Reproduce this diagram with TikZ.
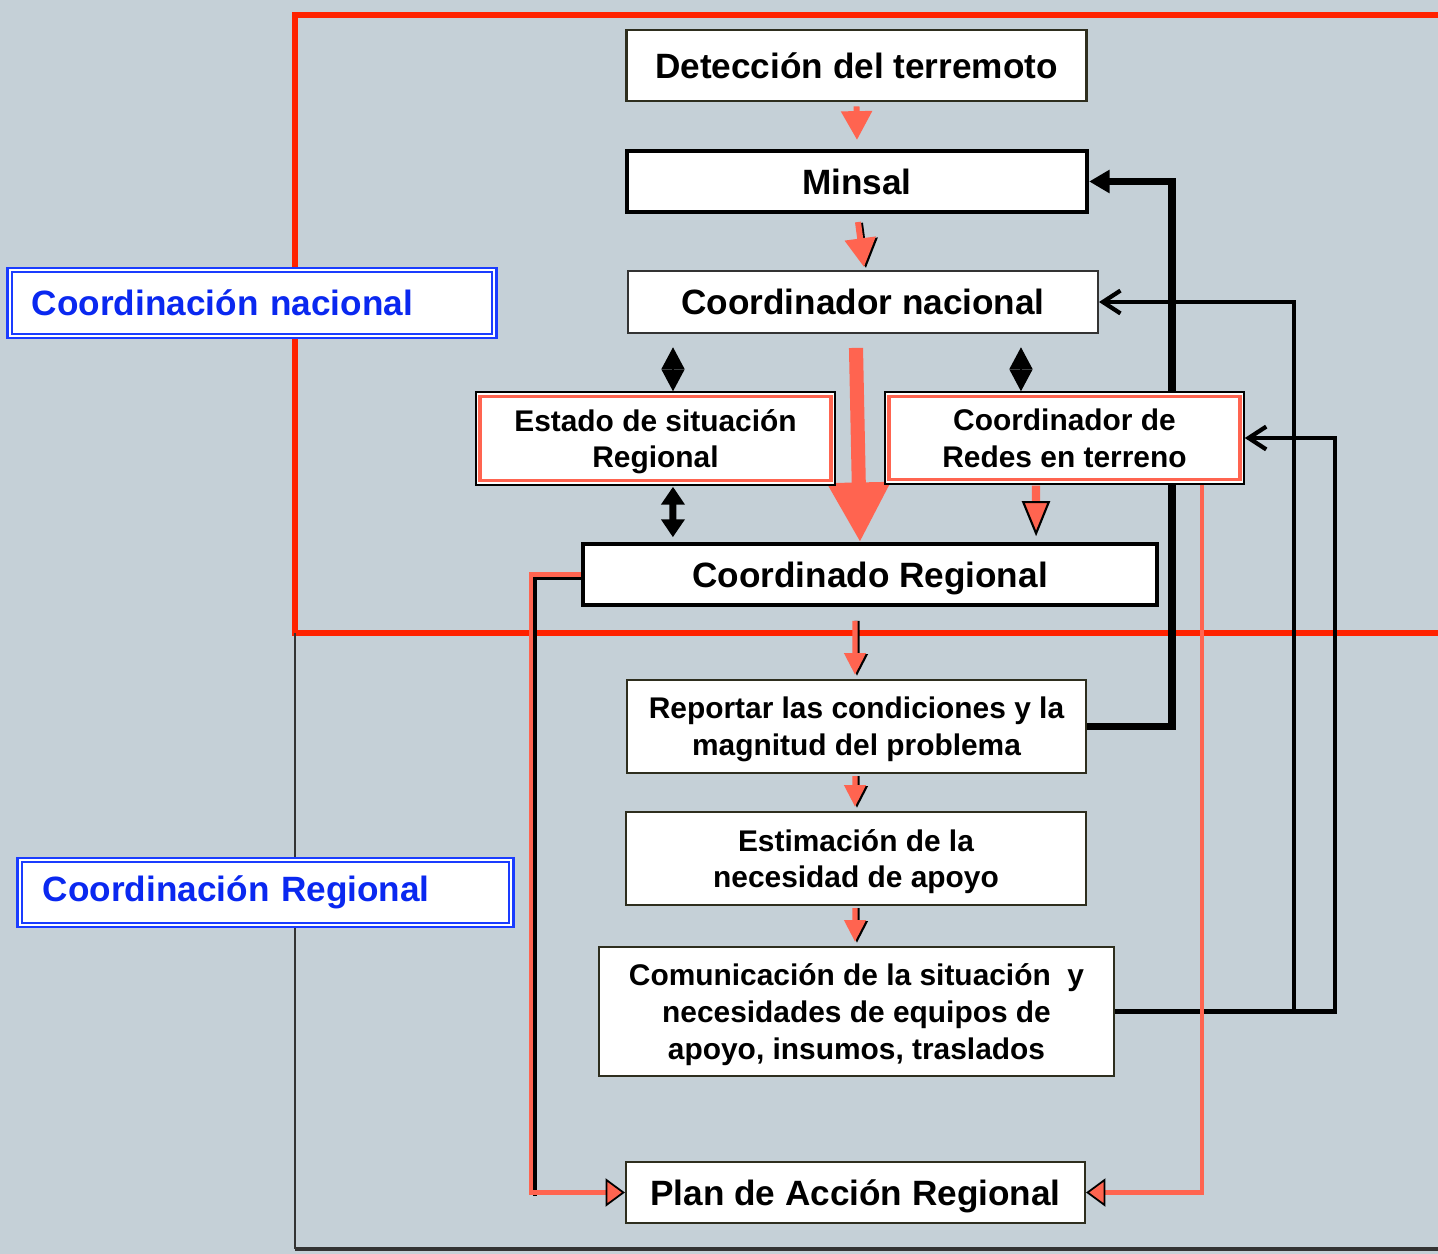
\documentclass[tikz,border=0pt]{standalone}
\usepackage{fontspec}
\setmainfont{Liberation Sans}
\usetikzlibrary{arrows.meta,calc}
\definecolor{bg}{HTML}{C5D0D7}
\definecolor{salmon}{HTML}{FF6450}
\definecolor{framered}{HTML}{FF2200}
\definecolor{lblue}{HTML}{1A3CFF}
\definecolor{tblue}{HTML}{0A28F0}
\definecolor{olive}{HTML}{2E2E1E}
\pgfdeclarelayer{back}
\pgfdeclarelayer{mid}
\pgfsetlayers{back,mid,main}
\begin{document}
\begin{tikzpicture}[x=0.01cm,y=-0.01cm,
  box/.style={draw=olive, line width=0.55pt, fill=white, inner sep=0pt, align=center, text depth=0pt,
    font=\bfseries\fontsize{10}{12}\selectfont},
  sbox/.style={box, font=\bfseries\fontsize{8.5}{10.5}\selectfont},
  rbox/.style={sbox, draw=black, line width=0.4pt,
    path picture={\draw[draw=salmon, line width=1.1pt]
      ([shift={(0.045cm,-0.045cm)}]path picture bounding box.north west) rectangle
      ([shift={(-0.045cm,0.045cm)}]path picture bounding box.south east);}},
  lbl/.style={draw=lblue, double=white, line width=0.75pt, double distance=0.45pt, fill=white,
    text=tblue, align=left, inner ysep=0pt, font=\bfseries\fontsize{10}{12}\selectfont},
  sar/.style={draw=salmon, line width=1.7pt, -{Triangle[width=8.5pt,length=8.2pt]}},
  sar2/.style={draw=salmon, line width=1.5pt, -{Triangle[width=5.8pt,length=6.2pt]}},
  shad/.style={draw=black},
  bigar/.style={draw=salmon, line width=4pt, -{Triangle[width=17pt,length=17pt]}},
  dia/.style={draw=black, line width=0.4pt, {Triangle[width=6.5pt,length=6.2pt]}-{Triangle[width=6.5pt,length=6.2pt]}},
  dbl/.style={draw=black, line width=2pt, {Triangle[width=6.5pt,length=5.1pt]}-{Triangle[width=6.5pt,length=5.1pt]}},
  obtip/.style={-{Triangle[width=8pt,length=5.5pt,fill=salmon,color=black,line width=0.5pt]}},
  sline/.style={draw=salmon, line width=1.3pt, line join=miter},
  thickblk/.style={draw=black, line width=2.2pt, line join=miter, -{Triangle[width=6.3pt,length=5.8pt]}},
  medblk/.style={draw=black, line width=1.35pt, line join=miter, -{Straight Barb[width=6.5pt,length=5pt,line width=1.2pt]}}
]
\begin{pgfonlayer}{back}
\useasboundingbox (0,0) rectangle (1438,1254);
\fill[bg] (0,0) rectangle (1438,1254);
\draw[framered, line width=1.45pt, line join=miter] (1445,15) -- (295,15) -- (295,633) -- (1445,633);
\draw[black!80, line width=0.6pt] (295,633) -- (295,1249);
\draw[black!80, line width=0.9pt] (295,1249) -- (1445,1249);
\end{pgfonlayer}

% nodes
\node[box, line width=0.8pt, minimum width=4.59cm, minimum height=0.71cm] (det) at (856.5,65.5) {Detección del terremoto};
\node[box, draw=black, line width=1.15pt, minimum width=4.60cm, minimum height=0.61cm] (minsal) at (857,181.5) {Minsal};
\node[box, draw=black!80, line width=0.5pt, minimum width=4.70cm, minimum height=0.62cm] (cn) at (863,302) {Coordinador nacional};
\node[rbox, minimum width=3.59cm, minimum height=0.93cm] (estado) at (655.5,438.5) {Estado de situación\\Regional};
\node[rbox, minimum width=3.59cm, minimum height=0.92cm] (redes) at (1064.5,438) {Coordinador de\\Redes en terreno};
\node[box, draw=black, line width=1pt, minimum width=5.74cm, minimum height=0.61cm] (cr) at (870,574.5) {Coordinado Regional};
\node[sbox, minimum width=4.59cm, minimum height=0.93cm] (rep) at (856.5,726.5) {Reportar las condiciones y la\\magnitud del problema};
\node[sbox, minimum width=4.60cm, minimum height=0.93cm] (est) at (856,858.5) {Estimación de la\\necesidad de apoyo};
\node[sbox, minimum width=5.15cm, minimum height=1.29cm] (com) at (856.5,1011.5) {Comunicación de la situación\ \ y\\necesidades de equipos de\\apoyo, insumos, traslados};
\node[box, minimum width=4.59cm, minimum height=0.61cm] (plan) at (855.5,1192.5) {Plan de Acción Regional};

% labels
\node[lbl, inner xsep=0.22cm, text width=4.40cm, minimum height=0.66cm] (lnac) at (252,303) {Coordinación nacional};
\node[lbl, inner xsep=0.23cm, text width=4.45cm, minimum height=0.65cm] (lreg) at (265.5,892.5) {Coordinación Regional};

\begin{pgfonlayer}{mid}
% downward salmon arrows
\draw[sar] ([yshift=-0.04cm]det.south) -- ([yshift=0.09cm]minsal.north);
\draw[sar, shad] ([shift={(0.03cm,-0.09cm)}]minsal.south) -- ([shift={(0.03cm,0.02cm)}]cn.north);
\draw[sar] ([shift={(0.01cm,-0.08cm)}]minsal.south) -- ([shift={(0.01cm,0.03cm)}]cn.north);
\draw[bigar] ([shift={(-0.07cm,-0.14cm)}]cn.south) -- ([shift={(-0.10cm,0cm)}]cr.north);

% double arrows
\draw[dia] ([shift={(0.175cm,0.44cm)}]estado.north) -- ([shift={(0.175cm,0cm)}]estado.north);
\draw[dia] ([shift={(-0.435cm,0.44cm)}]redes.north) -- ([shift={(-0.435cm,0cm)}]redes.north);
\draw[dbl] ([shift={(0.175cm,-0.01cm)}]estado.south) -- ([shift={(-1.97cm,0.05cm)}]cr.north);

% redes -> cr
\draw[draw=salmon, line width=2.4pt, -{Triangle[width=8pt,length=10pt,fill=salmon,color=black,line width=0.6pt]}]
  ([shift={(-0.285cm,-0.01cm)}]redes.south) -- ([shift={(1.66cm,0.06cm)}]cr.north);

% chain below cr
\draw[sar2, shad] ([shift={(-0.13cm,-0.14cm)}]cr.south) -- ([shift={(0.005cm,0.03cm)}]rep.north);
\draw[sar2] ([shift={(-0.15cm,-0.14cm)}]cr.south) -- ([shift={(-0.015cm,0.04cm)}]rep.north);
\draw[sar2, shad] ([shift={(0.005cm,-0.02cm)}]rep.south) -- ([shift={(0.01cm,0.03cm)}]est.north);
\draw[sar2] ([shift={(-0.015cm,-0.02cm)}]rep.south) -- ([shift={(-0.01cm,0.04cm)}]est.north);
\draw[sar2, shad] ([shift={(0.01cm,-0.02cm)}]est.south) -- ([shift={(0.005cm,0.03cm)}]com.north);
\draw[sar2] ([shift={(-0.01cm,-0.02cm)}]est.south) -- ([shift={(-0.015cm,0.04cm)}]com.north);

% feedback black lines
\draw[thickblk] (rep.east) -- ++(85,0) |- (minsal.east);
\draw[medblk] (com.east) -- ++(220,0) |- (redes.east);
\draw[medblk] ($(com.east)+(179,0)$) |- (cn.east);

% salmon lines to plan
\draw[draw=black, line width=1.3pt, line join=miter] ([shift={(0cm,-0.035cm)}]cr.west) -- ++(-46,0) -- ++(0,618);
\draw[sline, obtip] (cr.west) -- ++(-50,0) |- (plan.west);
\draw[sline, obtip] ($(redes.south)+(137.5,0)$) |- (plan.east);
\end{pgfonlayer}
\end{tikzpicture}
\end{document}
